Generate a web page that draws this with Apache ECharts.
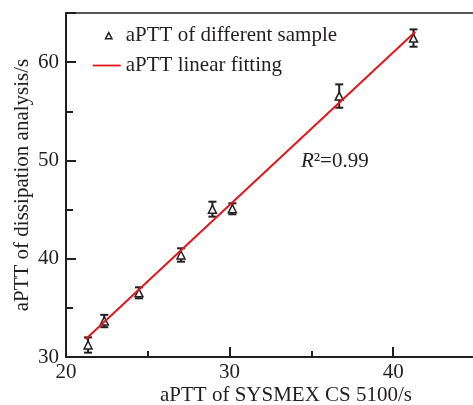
<!DOCTYPE html>
<html>
<head>
<meta charset="utf-8">
<script src="https://cdn.jsdelivr.net/npm/echarts@6/dist/echarts.min.js"></script>
<style>
  html, body { margin: 0; padding: 0; background: #fff; }
  #chart { width: 473px; height: 405px; }
</style>
</head>
<body>
<div id="chart"></div>
<script>
// aPTT measured on SYSMEX CS 5100 (x) vs. dissipation analysis (y)
const sysmexAPTT      = [21.35, 22.34, 24.46, 27.03, 28.95, 30.17, 36.70, 41.24];
const dissipationAPTT = [31.22, 33.66, 36.53, 40.38, 45.04, 45.08, 56.55, 62.45];
const dissipationErr  = [0.78, 0.63, 0.56, 0.68, 0.76, 0.56, 1.19, 0.88];

// linear fit end points
const fitX = [21.2, 41.35];
const fitY = [31.8, 63.1];

const xTicks = [20, 30, 40];
const yTicks = [30, 40, 50, 60];

const serif = 'Liberation Serif, "Times New Roman", serif';
const ink = '#231f20';
const red = '#e3161d';

const pointData = sysmexAPTT.map((x, i) => [x, dissipationAPTT[i]]);
const errData = sysmexAPTT.map((x, i) => [x, dissipationAPTT[i] - dissipationErr[i], dissipationAPTT[i] + dissipationErr[i]]);
const fitData = fitX.map((x, i) => [x, fitY[i]]);

// legend glyphs, padded to the 28x8 legend box so they keep their size
const triangleIcon = 'path://M0,0M12.8,7.2L16,1.2L19.2,7.2ZM28,8';
const lineIcon = 'path://M0,0M0,3.1L28,3.1L28,4.9L0,4.9ZM28,8';

const chart = echarts.init(document.getElementById('chart'));
chart.setOption({
  animation: false,
  backgroundColor: '#fff',
  grid: {
    left: 66, top: 13, width: 409, height: 344,
    outerBoundsMode: 'none',
    containLabel: false,
    show: true, borderColor: ink, borderWidth: 1.5, backgroundColor: 'transparent'
  },
  legend: {
    orient: 'vertical',
    left: 92, top: 25,
    padding: 0,
    itemWidth: 28, itemHeight: 8, itemGap: 9,
    symbolKeepAspect: false,
    textStyle: { fontFamily: serif, fontSize: 21, color: ink },
    data: [
      { name: 'aPTT of different sample', icon: triangleIcon,
        itemStyle: { color: '#fff', borderColor: ink, borderWidth: 1.5 } },
      { name: 'aPTT linear fitting', icon: lineIcon,
        itemStyle: { color: red, borderWidth: 0 } }
    ]
  },
  xAxis: {
    type: 'value', min: 20, max: 45, interval: 10,
    name: 'aPTT of SYSMEX CS 5100/s',
    nameLocation: 'middle', nameGap: 28, nameMoveOverlap: false,
    nameTextStyle: { fontFamily: serif, fontSize: 21, color: ink, padding: [0, 0, 0, 31] },
    axisLine: { lineStyle: { color: ink, width: 2 } },
    axisTick: { inside: true, length: 10, lineStyle: { color: ink, width: 2 } },
    minorTick: { show: true, splitNumber: 2, length: 6, lineStyle: { color: ink, width: 2 } },
    axisLabel: { fontFamily: serif, fontSize: 21, color: ink, margin: 5,
      customValues: xTicks },
    splitLine: { show: false }
  },
  yAxis: {
    type: 'value', min: 30, max: 65, interval: 10,
    name: 'aPTT of dissipation analysis/s',
    nameLocation: 'middle', nameGap: 33, nameMoveOverlap: false,
    nameTextStyle: { fontFamily: serif, fontSize: 21, color: ink },
    axisLine: { lineStyle: { color: ink, width: 2 } },
    axisTick: { inside: true, length: 10, lineStyle: { color: ink, width: 2 } },
    minorTick: { show: true, splitNumber: 2, length: 7, lineStyle: { color: ink, width: 2 } },
    axisLabel: { fontFamily: serif, fontSize: 21, color: ink, margin: 7,
      customValues: yTicks },
    splitLine: { show: false }
  },
  graphic: [{
    type: 'text', left: 301, top: 151, z: 10,
    style: {
      text: '{i|R}²=0.99',
      font: '21px ' + serif, fill: ink,
      rich: { i: { fontStyle: 'italic', fontFamily: serif, fontSize: 21, fill: ink } }
    }
  }],
  series: [
    {
      type: 'custom',
      name: 'err',
      data: errData,
      z: 2,
      renderItem: function (params, api) {
        const x = api.value(0);
        const lo = api.coord([x, api.value(1)]);
        const hi = api.coord([x, api.value(2)]);
        const w = 4;
        const st = { stroke: ink, lineWidth: 2 };
        return {
          type: 'group',
          children: [
            { type: 'line', shape: { x1: lo[0], y1: lo[1], x2: hi[0], y2: hi[1] }, style: st },
            { type: 'line', shape: { x1: lo[0] - w, y1: lo[1], x2: lo[0] + w, y2: lo[1] }, style: st },
            { type: 'line', shape: { x1: hi[0] - w, y1: hi[1], x2: hi[0] + w, y2: hi[1] }, style: st }
          ]
        };
      }
    },
    {
      type: 'scatter',
      name: 'aPTT of different sample',
      data: pointData,
      symbol: 'triangle',
      symbolSize: 8,
      z: 3,
      itemStyle: { color: '#fff', borderColor: ink, borderWidth: 1.5, opacity: 1 }
    },
    {
      type: 'line',
      name: 'aPTT linear fitting',
      data: fitData,
      symbol: 'none',
      z: 4,
      lineStyle: { color: red, width: 2 },
      itemStyle: { color: red }
    }
  ]
});
</script>
</body>
</html>
